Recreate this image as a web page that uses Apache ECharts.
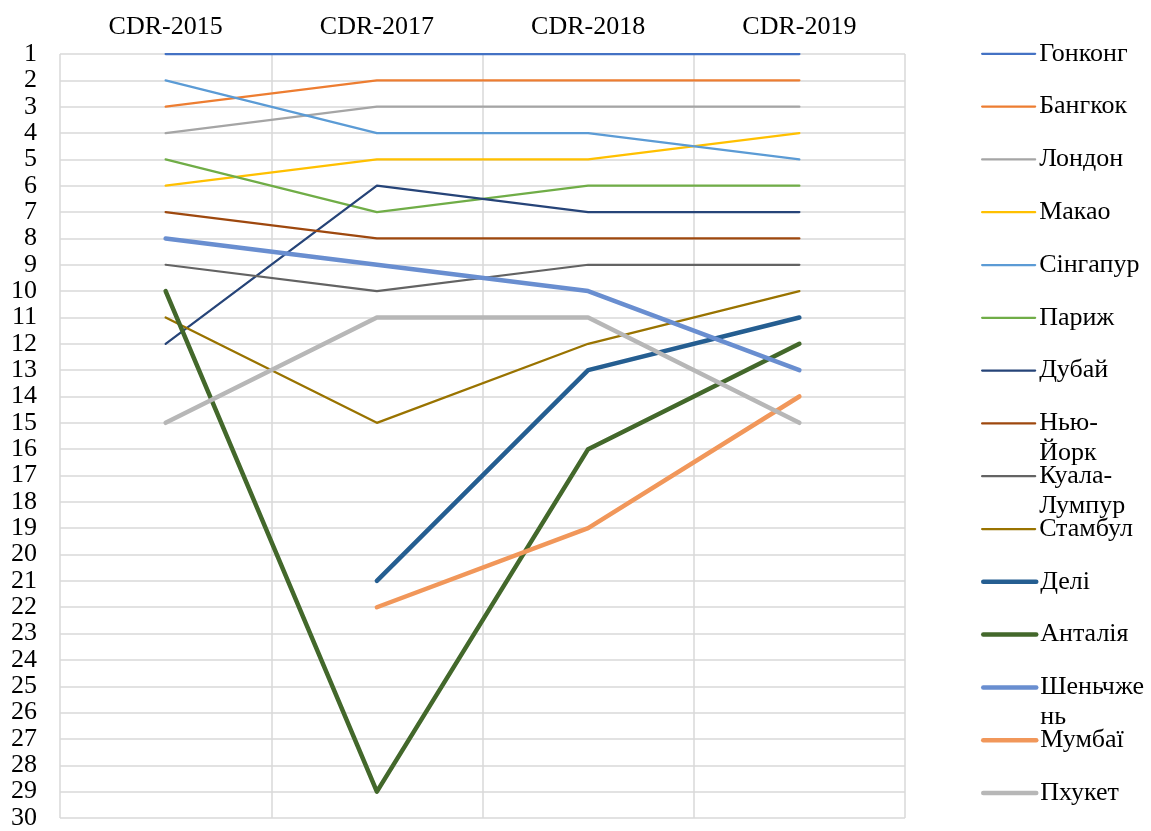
<!DOCTYPE html>
<html><head><meta charset="utf-8">
<script src="https://cdn.jsdelivr.net/npm/echarts@6/dist/echarts.min.js"></script>
<style>html,body{margin:0;padding:0;background:#fff}#c{width:1151px;height:831px}</style>
</head><body><div id="c"></div>
<script>
const categories = ['CDR-2015', 'CDR-2017', 'CDR-2018', 'CDR-2019'];
const names = ['Гонконг','Бангкок','Лондон','Макао','Сінгапур','Париж','Дубай','Нью-Йорк','Куала-Лумпур','Стамбул','Делі','Анталія','Шеньчжень','Мумбаї','Пхукет'];
const legendLabels = ['Гонконг','Бангкок','Лондон','Макао','Сінгапур','Париж','Дубай','Нью-\nЙорк','Куала-\nЛумпур','Стамбул','Делі','Анталія','Шеньчже\nнь','Мумбаї','Пхукет'];
const hongKong  = [1, 1, 1, 1];
const bangkok   = [3, 2, 2, 2];
const london    = [4, 3, 3, 3];
const macau     = [6, 5, 5, 4];
const singapore = [2, 4, 4, 5];
const paris     = [5, 7, 6, 6];
const dubai     = [12, 6, 7, 7];
const newYork   = [7, 8, 8, 8];
const kualaLumpur = [9, 10, 9, 9];
const istanbul  = [11, 15, 12, 10];
const delhi     = [null, 21, 13, 11];
const antalya   = [10, 29, 16, 12];
const shenzhen  = [8, 9, 10, 13];
const mumbai    = [null, 22, 19, 14];
const phuket    = [15, 11, 11, 15];
const values = [hongKong, bangkok, london, macau, singapore, paris, dubai, newYork, kualaLumpur, istanbul, delhi, antalya, shenzhen, mumbai, phuket];
const colors = ['#4472C4','#ED7D31','#A5A5A5','#FFC000','#5B9BD5','#70AD47','#264478','#9E480E','#636363','#997300','#255E91','#43682B','#698ED0','#F1975A','#B7B7B7'];
const thick = [false,false,false,false,false,false,false,false,false,false,true,true,true,true,true];
const yTicks = {min: 1, max: 30, interval: 1};

const font = "'Liberation Serif', 'Times New Roman', serif";
const LH = 30;
const series = names.map((n, i) => ({
  name: n, type: 'line', data: values[i], symbol: 'none', showSymbol: false,
  lineStyle: {color: colors[i], width: thick[i] ? 4.5 : 2.25, cap: 'round', join: 'round'},
  itemStyle: {color: colors[i]},
  connectNulls: false, z: thick[i] ? 3 : 2
}));
const legends = names.map((n, i) => {
  const lbl = legendLabels[i];
  const parts = lbl.split('\n');
  const text = parts.length > 1 ? ' \n' + lbl : ' \n' + lbl + '\n ';
  return {
    data: [n], orient: 'vertical', left: 981, top: 52.3 + i * 52.8 - 1.5 * LH + 1.5,
    padding: 0, itemWidth: 53, itemHeight: 10, itemGap: 0,
    formatter: () => text, selectedMode: false,
    itemStyle: {opacity: 0, borderWidth: 0},
    lineStyle: {color: colors[i], width: thick[i] ? 4.5 : 2.25, cap: 'round'},
    textStyle: {fontFamily: font, fontSize: 26, color: '#000', lineHeight: LH, padding: [0, 0, 0, -1]}
  };
});
const chart = echarts.init(document.getElementById('c'), null, {renderer: 'canvas'});
chart.setOption({
  animation: false,
  backgroundColor: '#fff',
  color: colors,
  grid: {left: 60, right: 246, top: 54, bottom: 11, containLabel: false},
  legend: legends,
  xAxis: {
    type: 'category', position: 'top', data: categories, boundaryGap: true,
    axisLine: {show: false}, axisTick: {show: false},
    axisLabel: {fontFamily: font, fontSize: 26, color: '#000', margin: 14},
    splitLine: {show: true, lineStyle: {color: '#D9D9D9', width: 1.5}}
  },
  yAxis: {
    type: 'value', inverse: true, min: yTicks.min, max: yTicks.max, interval: yTicks.interval,
    axisLine: {show: false}, axisTick: {show: false},
    axisLabel: {fontFamily: font, fontSize: 26, color: '#000', margin: 23},
    splitLine: {show: true, lineStyle: {color: '#D9D9D9', width: 1.5}}
  },
  series: series
});
</script></body></html>
